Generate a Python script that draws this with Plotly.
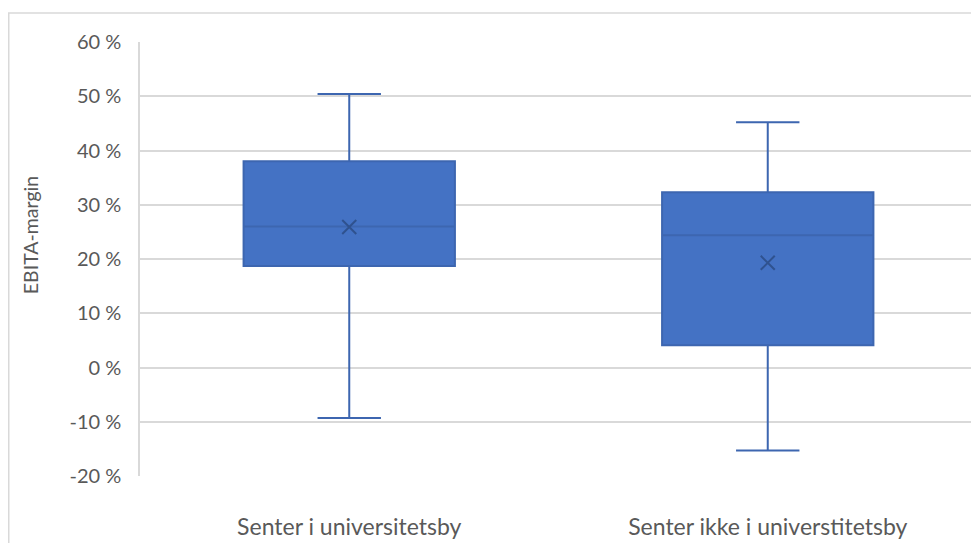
import plotly.graph_objects as go

categories = ["Senter i universitetsby", "Senter ikke i universtitetsby"]
lower_whisker = [-9.3, -15.3]
q1 = [18.7, 4.1]
median = [26.0, 24.4]
q3 = [38.0, 32.3]
upper_whisker = [50.4, 45.2]
mean = [25.9, 19.3]
y_ticks = [-20, -10, 0, 10, 20, 30, 40, 50, 60]

FONT = "Lato, 'Open Sans', sans-serif"
GREY = "#595959"

fig = go.Figure()
fig.add_trace(go.Box(
    x=categories,
    q1=q1, median=median, q3=q3,
    lowerfence=lower_whisker, upperfence=upper_whisker,
    fillcolor="#4472c4",
    line=dict(color="#3d66b0", width=2),
    whiskerwidth=0.3,
    width=0.505,
    boxpoints=False,
    showlegend=False,
    hoverinfo="skip",
))
fig.add_trace(go.Scatter(
    x=categories, y=mean, mode="markers",
    marker=dict(symbol="x-thin", size=14, line=dict(color="#2f528f", width=2)),
    showlegend=False, hoverinfo="skip",
))

fig.update_layout(
    width=971, height=535,
    margin=dict(l=132, r=2, t=34, b=67),
    paper_bgcolor="white", plot_bgcolor="white",
    font=dict(family=FONT, color=GREY, size=20),
    xaxis=dict(
        range=[-0.5, 1.5],
        showgrid=False, zeroline=False, showline=False,
        ticks="", ticklabelstandoff=35,
        tickfont=dict(size=23, color=GREY),
    ),
    yaxis=dict(
        range=[-20, 60], tickvals=y_ticks,
        ticktext=[f"{v} %" for v in y_ticks],
        showgrid=True, gridcolor="#d9d9d9", gridwidth=1.5,
        zeroline=False, showline=True, linecolor="#d9d9d9", linewidth=1.5,
        ticks="", ticklabelstandoff=13,
        tickfont=dict(size=20, color=GREY),
    ),
    shapes=[dict(
        type="rect", xref="paper", yref="paper",
        x0=-0.1568, x1=1.05, y0=-0.3, y1=1.0668,
        line=dict(color="#d9d9d9", width=1.5), fillcolor="rgba(0,0,0,0)",
        layer="below",
    )],
    annotations=[dict(
        text="EBITA-margin", textangle=-90, xref="paper", yref="paper",
        x=-0.1314, y=0.555, xanchor="center", yanchor="middle", showarrow=False,
        font=dict(size=19.5, color=GREY, family=FONT),
    )],
)

fig.write_html("out.html")
